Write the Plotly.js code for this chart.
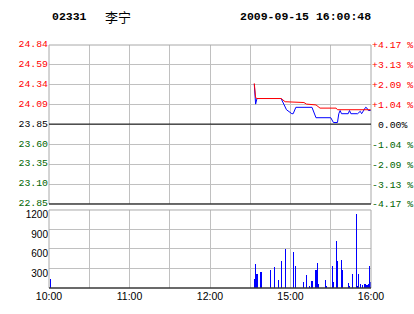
<!DOCTYPE html>
<html>
<head>
<meta charset="utf-8">
<script src="https://cdn.plot.ly/plotly-3.0.1.min.js"></script>
<style>
html,body{margin:0;padding:0;background:#fff;}
#chart{width:414px;height:314px;}
</style>
</head>
<body>
<div id="chart"></div>
<script>
// ---- data ----
const stockCode = "02331";
const stockName = "李宁";
const stamp = "2009-09-15 16:00:48";
const prevClose = 23.85;

const priceTicks = [24.84, 24.59, 24.34, 24.09, 23.85, 23.60, 23.35, 23.10, 22.85];
const pctTicks = [4.17, 3.13, 2.09, 1.04, 0, -1.04, -2.09, -3.13, -4.17];
const pctLabels = ["+4.17 %", "+3.13 %", "+2.09 %", "+1.04 %", "\u00a00.00%", "-1.04 %", "-2.09 %", "-3.13 %", "-4.17 %"];
const volTicks = [300, 600, 900, 1200];
const timeTicks = ["10:00", "10:30", "11:00", "11:30", "12:00", "14:30", "15:00", "15:30", "16:00"];
const timeLabels = ["10:00", "", "11:00", "", "12:00", "", "15:00", "", "16:00"];

const priceTimes = ["14:33","14:34","14:35","14:53","14:57","15:01","15:02","15:04","15:16","15:19","15:30","15:32","15:35","15:36","15:37","15:38","15:43","15:44","15:45","15:50","15:52","15:53","15:56","15:57","15:58","16:00"];
const priceVals  = [24.35, 24.10, 24.17, 24.17, 24.03, 23.98, 23.98, 24.06, 24.06, 23.93, 23.93, 23.87, 23.87, 23.98, 24.02, 23.98, 23.98, 24.02, 23.98, 23.98, 24.01, 23.98, 24.06, 24.05, 24.02, 24.02];

const avgTimes = ["14:33","14:34","14:35","14:53","14:56","15:10","15:12","15:19","15:22","15:34","15:35","16:00"];
const avgVals  = [24.36, 24.18, 24.17, 24.17, 24.13, 24.12, 24.10, 24.09, 24.05, 24.05, 24.03, 24.03];

const volTimes = ["10:01","14:33","14:34","14:35","14:38","14:45","14:48","14:51","14:53","14:56","15:02","15:04","15:10","15:12","15:14","15:16","15:19","15:20","15:21","15:26","15:27","15:31","15:32","15:34","15:35","15:38","15:39","15:43","15:44","15:46","15:49","15:50","15:51","15:52","15:54","15:55","15:56","15:57","15:58","15:59","16:00"];
const volVals  = [143, 143, 374, 220, 251, 282, 328, 128, 420, 605, 559, 343, 97, 205, 35, 112, 282, 390, 66, 128, 35, 343, 97, 728, 420, 436, 282, 82, 35, 220, 1144, 35, 220, 66, 51, 66, 66, 51, 66, 343, 97];

// ---- trading-minute scale (morning 10:00-12:30, afternoon 14:30-16:00) ----
function tmin(t) {
  const [h, m] = t.split(":").map(Number);
  const mins = h * 60 + m;
  if (mins <= 12 * 60 + 30) return mins - 600;
  return mins - (14 * 60 + 30) + 150;
}

const RED = "#FF0000", GREEN = "#006400", BLACK = "#000000", BLUE = "#0000FF";
const GRID = "#C0C0C0", BORDER = "#A8A8A8";

function colorFor(v) { return v > 0 ? RED : (v < 0 ? GREEN : BLACK); }

const priceText = priceTicks.map(v => '<span style="color:' + colorFor(+(v - prevClose).toFixed(2)) + '">' + v.toFixed(2) + '</span>');
const pctText = pctTicks.map((v, i) => '<span style="color:' + colorFor(v) + '">' + pctLabels[i] + '</span>');

const monoFont = {family: "Liberation Mono, DejaVu Sans Mono, monospace", size: 9.8};
const sansFont = {family: "Liberation Sans, Arial, sans-serif", size: 10, color: BLACK};

const traces = [
  {x: priceTimes.map(tmin), y: priceVals, type: "scatter", mode: "lines",
   line: {color: BLUE, width: 1}, xaxis: "x", yaxis: "y", hoverinfo: "skip"},
  {x: avgTimes.map(tmin), y: avgVals, type: "scatter", mode: "lines",
   line: {color: RED, width: 1}, xaxis: "x", yaxis: "y", hoverinfo: "skip"},
  {x: [0, 240], y: [0, 0], type: "scatter", mode: "none", xaxis: "x", yaxis: "y3", hoverinfo: "skip"},
  {x: volTimes.map(tmin), y: volVals, type: "bar", width: 0.8,
   marker: {color: BLUE, line: {width: 0}}, xaxis: "x2", yaxis: "y2", hoverinfo: "skip"}
];

const xt = timeTicks.map(tmin);
const layout = {
  width: 414, height: 314,
  margin: {l: 49, r: 43, t: 45, b: 26, pad: 0},
  paper_bgcolor: "#FFFFFF", plot_bgcolor: "#FFFFFF",
  showlegend: false,
  bargap: 0,
  xaxis: {domain: [0, 1], anchor: "y", range: [0, 240], tickmode: "array", tickvals: xt,
          showticklabels: false, showgrid: true, gridcolor: GRID, gridwidth: 1,
          zeroline: false, showline: false, ticks: ""},
  xaxis2: {domain: [0, 1], anchor: "y2", range: [0, 240], tickmode: "array", tickvals: xt,
           ticktext: timeLabels, tickfont: {family: "Liberation Sans, Arial, sans-serif", size: 10.5, color: BLACK},
           showgrid: true, gridcolor: GRID, gridwidth: 1,
           zeroline: false, showline: false, ticks: ""},
  yaxis: {domain: [0.3457, 1], anchor: "x", range: [22.85, 24.84], tickmode: "array",
          tickvals: priceTicks, ticktext: priceText, tickfont: monoFont,
          ticklabelshift: -1,
          showgrid: true, gridcolor: GRID, zeroline: false, showline: false, ticks: ""},
  yaxis3: {overlaying: "y", side: "right", anchor: "x", range: [-4.17, 4.17], tickmode: "array",
           tickvals: pctTicks, ticktext: pctText, tickfont: monoFont,
           showgrid: false, zeroline: false, showline: false, ticks: ""},
  yaxis2: {domain: [0, 0.321], anchor: "x2", range: [0, 1200], tickmode: "array",
           tickvals: volTicks, ticktext: volTicks.map(String), tickfont: sansFont,
           ticklabelshift: 5,
           showgrid: true, gridcolor: GRID, zeroline: false, showline: false, ticks: ""},
  shapes: [
    {type: "rect", xref: "x domain", yref: "y domain", x0: 0, x1: 1, y0: 0, y1: 1,
     line: {color: BORDER, width: 1}},
    {type: "line", xref: "x domain", yref: "y", x0: 0, x1: 1, y0: prevClose, y1: prevClose,
     line: {color: BLACK, width: 1}},
    {type: "line", xref: "x domain", yref: "y domain", x0: 0, x1: 1, y0: 0, y1: 0,
     line: {color: BLACK, width: 1}},
    {type: "rect", xref: "x2 domain", yref: "y2 domain", x0: 0, x1: 1, y0: 0, y1: 1,
     line: {color: BORDER, width: 1}},
    {type: "line", xref: "x2 domain", yref: "y2 domain", x0: 0, x1: 1, y0: 0, y1: 0,
     line: {color: BLACK, width: 1}}
  ],
  annotations: [
    {xref: "paper", yref: "paper", x: 0.003, y: 1.119, xanchor: "left", yanchor: "middle",
     text: "<b>" + stockCode + "</b>", showarrow: false,
     font: {family: "Liberation Mono, DejaVu Sans Mono, monospace", size: 11.5, color: BLACK}},
    {xref: "paper", yref: "paper", x: 0.168, y: 1.119, xanchor: "left", yanchor: "middle",
     text: stockName, showarrow: false,
     font: {family: "Noto Sans CJK SC, sans-serif", size: 13, color: BLACK}},
    {xref: "paper", yref: "paper", x: 0.587, y: 1.119, xanchor: "left", yanchor: "middle",
     text: "<b>" + stamp + "</b>", showarrow: false,
     font: {family: "Liberation Mono, DejaVu Sans Mono, monospace", size: 11.5, color: BLACK}}
  ]
};

Plotly.newPlot("chart", traces, layout, {staticPlot: true, displayModeBar: false});
</script>
</body>
</html>
